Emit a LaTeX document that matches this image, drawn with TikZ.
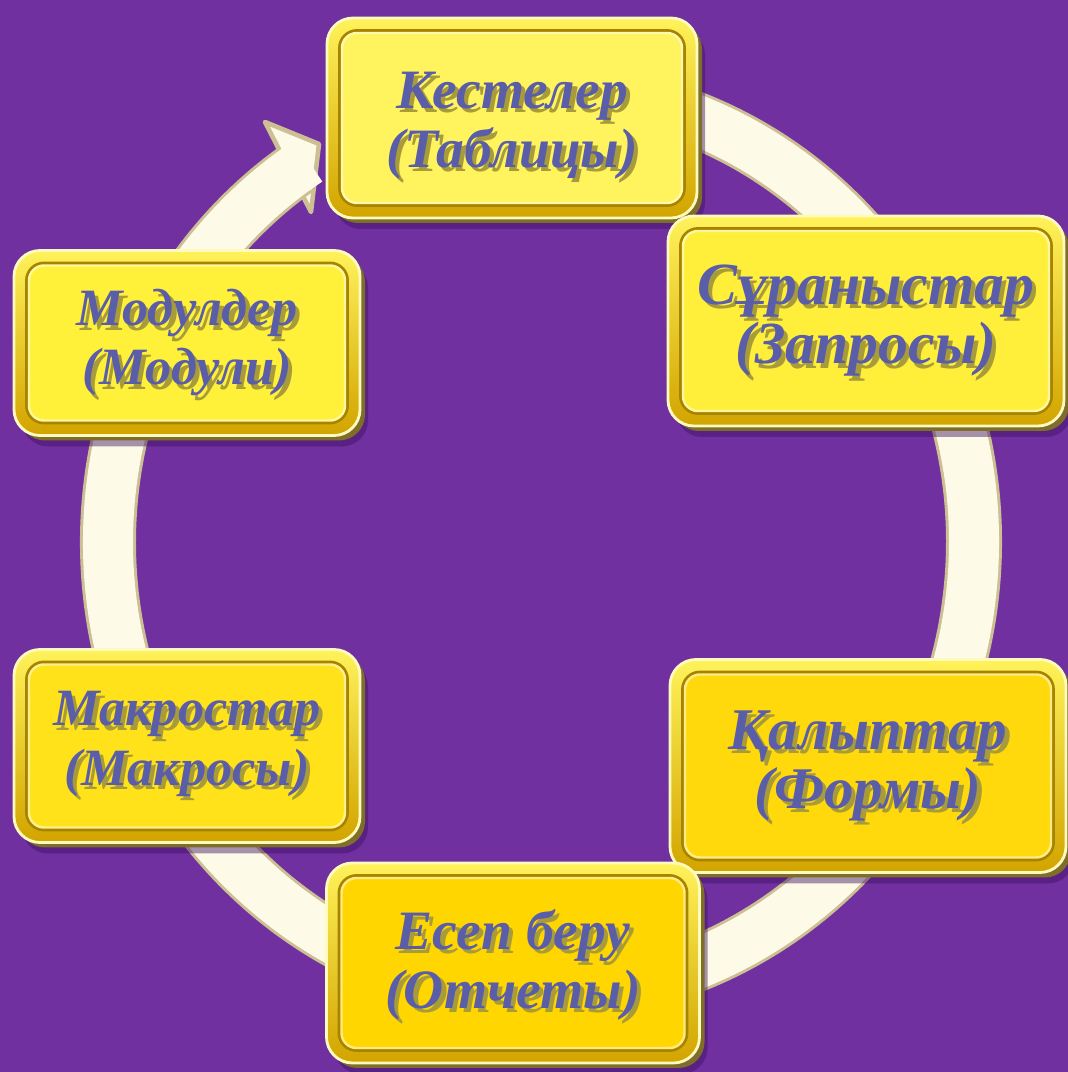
\documentclass[tikz,border=0pt]{standalone}
\usepackage{fontspec}
\setmainfont{Liberation Serif}
\usetikzlibrary{calc}
\definecolor{bg}{HTML}{7030A0}
\definecolor{ringc}{HTML}{FDFBE8}
\definecolor{ringe}{HTML}{CDBF94}
\definecolor{txtc}{HTML}{5A5DA8}
\definecolor{txtsh}{HTML}{A89C3A}
\definecolor{rimtop}{HTML}{FFF25A}
\definecolor{rimbot}{HTML}{D2A400}
\definecolor{sidec}{HTML}{7E6E2A}
\definecolor{shadowc}{HTML}{3C1060}
\definecolor{faceA}{HTML}{FFF45E}
\definecolor{faceB}{HTML}{FFEF3A}
\definecolor{faceC}{HTML}{FFF03A}
\definecolor{faceD}{HTML}{FFE21A}
\definecolor{faceE}{HTML}{FFD90C}
\definecolor{faceF}{HTML}{FFD600}
\newcommand\shd[1]{\makebox[0pt][l]{\kern1.2pt\raisebox{-1.2pt}{\color{txtsh}#1}}#1}
\tikzset{
  facepath/.style={rounded corners=0.17cm, draw=rimbot!80!black, line width=1.1pt},
  label text/.style={text=txtc, align=center, inner sep=0pt},
  fsz/.style={font=\bfseries\itshape\fontsize{#1}{16.8}\selectfont},
  ringline/.style={line width=0.56cm, draw=ringe},
  ringfill/.style={line width=0.50cm, draw=ringc},
  headstyle/.style={fill=ringc, draw=ringe, line width=1.3pt, line join=round}
}
% [node options] name, x, y, w, h, face colour, text
\newcommand\gbox[8][]{%
  \fill[shadowc, opacity=.45, rounded corners=0.26cm] ({#3-#5/2+8},{#4-#6/2-11}) rectangle ++(#5,#6);
  \fill[sidec, rounded corners=0.26cm] ({#3-#5/2+5},{#4-#6/2-5}) rectangle ++(#5,#6);
  \shade[rounded corners=0.26cm, top color=rimtop, bottom color=rimbot, draw=white!60!rimtop, line width=0.8pt]
     ({#3-#5/2},{#4-#6/2}) rectangle ++(#5,#6);
  \filldraw[facepath, fill=#7] ({#3-#5/2+13},{#4-#6/2+13}) rectangle ({#3+#5/2-13},{#4+#6/2-13});
  \draw[white!50!#7, line width=0.7pt, rounded corners=0.15cm] ({#3-#5/2+15},{#4-#6/2+15}) rectangle ({#3+#5/2-15},{#4+#6/2-15});
  \node[label text, #1] (#2) at (#3,#4) {#8};
}
\begin{document}
\begin{tikzpicture}[x=0.01cm, y=0.01cm]
\fill[bg] (0,0) rectangle (1068,1072);
\useasboundingbox (0,0) rectangle (1068,1072);

% ring
\coordinate (rc) at (541,530);
\coordinate (ob) at (265,950);
\coordinate (tip) at (319,928);
\coordinate (ib) at (311,860);
\filldraw[headstyle] (ob) -- (tip) -- (ib) -- cycle;
\draw[ringline] (rc) ++(85:433 and 452) arc[start angle=85, end angle=-235.5, x radius=433, y radius=452];
\draw[ringfill] (rc) ++(85:433 and 452) arc[start angle=85, end angle=-237.5, x radius=433, y radius=452];

% boxes
\gbox[fsz=15.8, yshift=-0.1cm]{tab}{512}{954}{370}{200}{faceA}{\shd{Кестелер}\\\shd{(Таблицы)}}
\gbox[fsz=17, yshift=-0.02cm]{zap}{866}{751}{396}{210}{faceB}{\shd{Сұраныстар}\\\shd{(Запросы)}}
\gbox[fsz=14.9, yshift=-0.02cm]{mod}{187}{729}{346}{185}{faceC}{\shd{Модулдер}\\\shd{(Модули)}}
\gbox[fsz=14.9]{mac}{187}{326}{346}{193}{faceD}{\shd{Макростар}\\\shd{(Макросы)}}
\gbox[fsz=16.8, yshift=-0.02cm]{form}{868}{306}{396}{213}{faceE}{\shd{Қалыптар}\\\shd{(Формы)}}
\gbox[fsz=15.8, yshift=-0.04cm]{otch}{513}{109}{373}{200}{faceF}{\shd{Есеп беру}\\\shd{(Отчеты)}}
\end{tikzpicture}
\end{document}
